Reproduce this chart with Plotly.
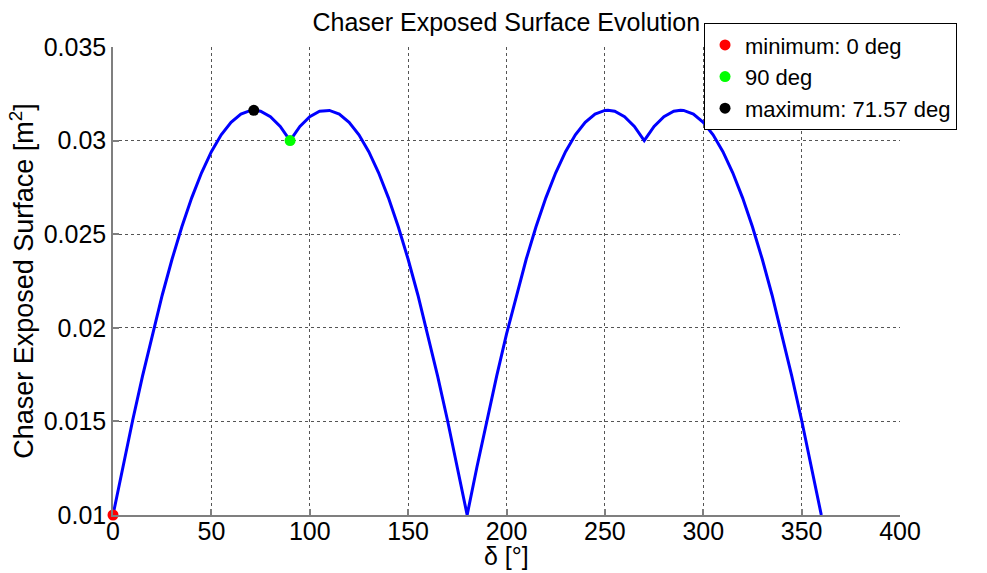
import plotly.graph_objects as go

delta = [0, 5, 10, 15, 20, 25, 30, 35, 40, 45, 50, 55, 60, 65, 70, 71.57, 75, 80, 85, 90,
         95, 100, 105, 110, 115, 120, 125, 130, 135, 140, 145, 150, 155, 160, 165, 170, 175, 180,
         185, 190, 195, 200, 205, 210, 215, 220, 225, 230, 235, 240, 245, 250, 251.57, 255, 260, 265, 270,
         275, 280, 285, 288.43, 290, 295, 300, 305, 310, 315, 320, 325, 330, 335, 340, 345, 350, 355, 360]
surface = [0.01000, 0.01258, 0.01506, 0.01742, 0.01966, 0.02174, 0.02366, 0.02540, 0.02694, 0.02828,
           0.02941, 0.03031, 0.03098, 0.03142, 0.03161, 0.03162, 0.03157, 0.03128, 0.03076, 0.03000,
           0.03076, 0.03128, 0.03157, 0.03161, 0.03142, 0.03098, 0.03031, 0.02941, 0.02828, 0.02694,
           0.02540, 0.02366, 0.02174, 0.01966, 0.01742, 0.01506, 0.01258, 0.01000,
           0.01258, 0.01506, 0.01742, 0.01966, 0.02174, 0.02366, 0.02540, 0.02694, 0.02828,
           0.02941, 0.03031, 0.03098, 0.03142, 0.03161, 0.03162, 0.03157, 0.03128, 0.03076, 0.03000,
           0.03076, 0.03128, 0.03157, 0.03162, 0.03161, 0.03142, 0.03098, 0.03031, 0.02941, 0.02828,
           0.02694, 0.02540, 0.02366, 0.02174, 0.01966, 0.01742, 0.01506, 0.01258, 0.01000]

marker_names = ["minimum: 0 deg", "90 deg", "maximum: 71.57 deg"]
marker_x = [0, 90, 71.57]
marker_y = [0.0100, 0.0300, 0.03162]
marker_colors = ["#ff0000", "#00ff00", "#000000"]

x_ticks = [0, 50, 100, 150, 200, 250, 300, 350, 400]
y_ticks = [0.01, 0.015, 0.02, 0.025, 0.03, 0.035]
y_tick_text = ["0.01", "0.015", "0.02", "0.025", "0.03", "0.035"]

FONT = "Liberation Sans, Arial, sans-serif"

fig = go.Figure()
fig.add_trace(go.Scatter(x=delta, y=surface, mode="lines",
                         line=dict(color="#0000ff", width=3), showlegend=False,
                         hoverinfo="skip"))
for name, mx, my, c in zip(marker_names, marker_x, marker_y, marker_colors):
    fig.add_trace(go.Scatter(x=[mx], y=[my], mode="markers", name=name,
                             marker=dict(color=c, size=11), cliponaxis=False))

axis_common = dict(
    showgrid=True, gridcolor="#555555", griddash="dot", gridwidth=1,
    showline=True, linecolor="#7f7f7f", linewidth=1.5, mirror=False,
    ticks="inside", ticklen=6, tickcolor="#7f7f7f", tickwidth=1.5,
    zeroline=False, automargin=False,
    tickfont=dict(family=FONT, size=25, color="black"),
)

fig.update_layout(
    width=987, height=573,
    margin=dict(l=113, r=87, t=47, b=58, autoexpand=False),
    paper_bgcolor="white", plot_bgcolor="white",
    font=dict(family=FONT, size=25, color="black"),
    title=dict(text="Chaser Exposed Surface Evolution", x=0.513, xanchor="center",
               y=0.962, yanchor="middle", font=dict(family=FONT, size=25, color="black")),
    xaxis=dict(range=[0, 400], tickvals=x_ticks, ticklabelstandoff=-7, **axis_common),
    yaxis=dict(range=[0.01, 0.035], tickvals=y_ticks, ticktext=y_tick_text,
               title=dict(text="Chaser Exposed Surface [m<sup>2</sup>]", standoff=2,
                          font=dict(family=FONT, size=27)), **axis_common),
    legend=dict(x=0.751, y=1.051, xanchor="left", yanchor="top",
                bgcolor="white", bordercolor="black", borderwidth=1,
                font=dict(family=FONT, size=22, color="black"),
                itemwidth=30, tracegroupgap=0),
    annotations=[dict(text="δ [°]", xref="paper", yref="paper", x=0.5, y=-0.088,
                      xanchor="center", yanchor="middle", showarrow=False,
                      font=dict(family=FONT, size=25, color="black"))],
)

fig.write_html("out.html")
